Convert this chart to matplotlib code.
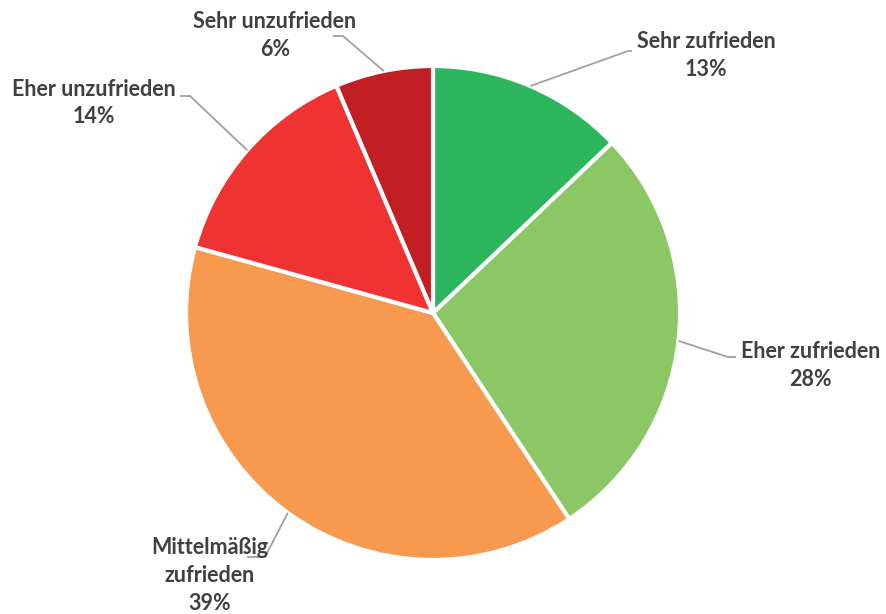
import numpy as np
import matplotlib
matplotlib.use('Agg')
import matplotlib.pyplot as plt

# ─────────────────────────────────────────
# Data
# ─────────────────────────────────────────
categories = ['Sehr zufrieden', 'Eher zufrieden', 'Mittelmäßig\nzufrieden',
              'Eher unzufrieden', 'Sehr unzufrieden']
shares = [12.9, 27.8, 38.6, 14.3, 6.4]
colors = ['#2db55d', '#8bc764', '#f79a4f', '#ef3232', '#c21f25']

# label layout in image pixels: (elbow x, elbow y, line end x, text x, text y, ha)
W, H = 887, 614
CX, CY, R = 433, 313, 247
label_layout = [
    (628, 51, 632, 637, 41, 'left'),
    (728, 357, 736, 741, 352, 'left'),
    (265, 557, 247, 210, 548, 'center'),
    (190, 96, 180, 12, 89, 'left'),
    (343, 36, 333, 275, 22, 'center'),
]

TEXT_COLOR = '#404040'
LINE_COLOR = '#a0a0a0'
FS = 15.5

plt.rcParams['font.family'] = ['Lato', 'DejaVu Sans']

fig = plt.figure(figsize=(W / 100, H / 100), dpi=100)
ax = fig.add_axes([0, 0, 1, 1])

wedges, _ = ax.pie(shares, colors=colors, startangle=90, counterclock=False,
                   center=(CX, H - CY), radius=R, frame=True,
                   wedgeprops=dict(edgecolor='white', linewidth=3))
ax.set_xlim(0, W)
ax.set_ylim(0, H)
ax.set_aspect('equal')
ax.axis('off')

for w, cat, val, lay in zip(wedges, categories, shares, label_layout):
    ex, ey, lx, tx, ty, ha = lay
    # leader starts at the middle of the wedge's arc
    mid = np.deg2rad((w.theta1 + w.theta2) / 2)
    sx = CX + R * np.cos(mid)
    sy = (H - CY) + R * np.sin(mid)
    ax.plot([sx, ex, lx], [sy, H - ey, H - ey], color=LINE_COLOR, lw=1.3,
            solid_capstyle='butt', zorder=1)

    lines = cat.split('\n') + [f'{val:.0f}%']
    t = ax.text(tx, H - ty, lines[0], ha=ha, va='center',
                fontsize=FS, fontweight='bold', color=TEXT_COLOR)
    fig.canvas.draw()
    bb = t.get_window_extent().transformed(ax.transData.inverted())
    mx = (bb.x0 + bb.x1) / 2
    # remaining lines centred under the first one
    for i, s in enumerate(lines[1:]):
        ax.text(mx, H - ty - 28 * (i + 1), s, ha='center', va='center',
                fontsize=FS, fontweight='bold', color=TEXT_COLOR)

fig.savefig('out.png', dpi=100)
